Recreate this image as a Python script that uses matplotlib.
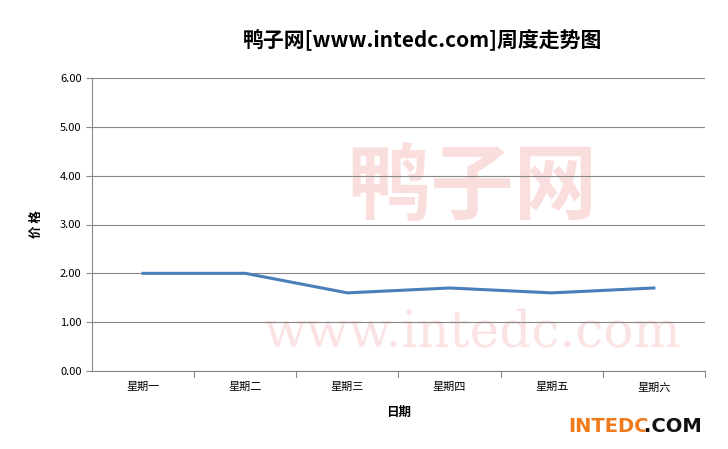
import matplotlib
matplotlib.use("Agg")
import matplotlib.pyplot as plt

plt.rcParams['font.family'] = ['Noto Sans CJK SC', 'DejaVu Sans']

days = ["星期一", "星期二", "星期三", "星期四", "星期五", "星期六"]
prices = [2.0, 2.0, 1.6, 1.7, 1.6, 1.7]
yticks = [0, 1, 2, 3, 4, 5, 6]

fig = plt.figure(figsize=(7.28, 4.49), dpi=100)
ax = fig.add_axes([92 / 728, 1 - 371 / 449, 613 / 728, 293 / 449])

# faint watermark
ax.text(0.62, 0.62, "鸭子网", transform=ax.transAxes, fontsize=60, color="#fadede",
        ha="center", va="center", fontweight="bold", zorder=0)
ax.text(0.62, 0.13, "www.intedc.com", transform=ax.transAxes, fontsize=36, color="#fbe3e3",
        ha="center", va="center", family="DejaVu Serif", zorder=0)

x = range(len(days))
ax.plot(x, prices, color="#4a7ebb", lw=2.2, zorder=3)
ax.set_xlim(-0.5, len(days) - 0.5)
ax.set_ylim(0, 6)
ax.set_yticks(yticks)
ax.set_yticklabels([f"{v:.2f}" for v in yticks], fontsize=8)
ax.set_xticks(list(x))
ax.set_xticklabels(days, fontsize=8)
ax.grid(axis="y", color="#888888", lw=0.8)
ax.set_axisbelow(True)
for s in ["top", "right"]:
    ax.spines[s].set_visible(False)
ax.spines["left"].set_color("#888888")
ax.spines["bottom"].set_color("#888888")
ax.tick_params(axis="y", length=4, color="#888888")
ax.tick_params(axis="x", length=0, pad=8)
for b in [i + 0.5 for i in range(len(days))]:
    ax.plot([b, b], [0, -0.12], color="#888888", lw=0.8, clip_on=False)

ax.set_xlabel("日期", fontsize=9, fontweight="bold", labelpad=10)
ax.set_ylabel("价 格", fontsize=9, fontweight="bold", labelpad=12)
fig.text(0.58, 0.91, "鸭子网[www.intedc.com]周度走势图", fontsize=15, fontweight="bold",
         ha="center", va="center")

fig.text(0.78, 0.05, "INTEDC", fontsize=14, fontweight="bold", color="#f07a1a",
         family="DejaVu Sans", ha="left", va="center")
fig.text(0.885, 0.05, ".COM", fontsize=14, fontweight="bold", color="#111111",
         family="DejaVu Sans", ha="left", va="center")

fig.savefig("out.png", dpi=100)
